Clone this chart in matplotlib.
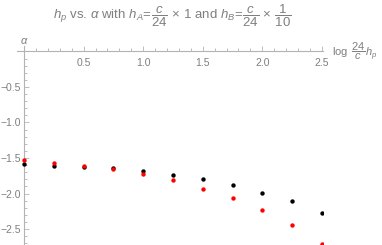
import matplotlib
matplotlib.use("Agg")
import matplotlib.pyplot as plt
from matplotlib.ticker import MultipleLocator, FixedLocator

x_vals = [0.0, 0.25, 0.5, 0.75, 1.0, 1.25, 1.5, 1.75, 2.0, 2.25, 2.5]
alpha_black = [-1.58, -1.61, -1.63, -1.645, -1.69, -1.74, -1.80, -1.88, -1.99, -2.11, -2.27]
alpha_red = [-1.53, -1.57, -1.61, -1.66, -1.73, -1.81, -1.93, -2.07, -2.23, -2.45, -2.71]
x_ticks = [0.5, 1.0, 1.5, 2.0, 2.5]
y_ticks = [-0.5, -1.0, -1.5, -2.0, -2.5]

plt.rcParams['font.family'] = ['Liberation Sans', 'DejaVu Sans']
plt.rcParams['mathtext.fontset'] = 'custom'
plt.rcParams['mathtext.rm'] = 'Liberation Sans'
plt.rcParams['mathtext.it'] = 'Liberation Sans:italic'
plt.rcParams['mathtext.sf'] = 'Liberation Sans'
axis_col = '#b3b3b3'
text_col = '#7f7f7f'

fig = plt.figure(figsize=(3.82, 2.45), dpi=100)
ax = fig.add_axes([17/382, 0.0, (323-17)/382, 1 - 46/245])
ax.set_xlim(-0.06, 2.51)
ax.set_ylim(-2.725, 0.077)

ax.scatter(x_vals, alpha_black, s=10, color='black', zorder=3, linewidths=0)
ax.scatter(x_vals, alpha_red, s=10, color='#ff0000', zorder=4, linewidths=0)

for s in ['top', 'right']:
    ax.spines[s].set_visible(False)
ax.spines['left'].set_position(('data', 0))
ax.spines['bottom'].set_position(('data', 0))
for s in ['left', 'bottom']:
    ax.spines[s].set_color(axis_col)
    ax.spines[s].set_linewidth(0.8)

ax.xaxis.set_major_locator(FixedLocator(x_ticks))
ax.xaxis.set_minor_locator(MultipleLocator(0.1))
ax.yaxis.set_major_locator(FixedLocator(y_ticks))
ax.yaxis.set_minor_locator(MultipleLocator(0.1))
ax.tick_params(which='both', direction='in', color=axis_col, width=0.6, labelcolor=text_col, labelsize=7.5)
ax.tick_params(which='major', length=3.5)
ax.tick_params(which='minor', length=2)
ax.tick_params(axis='x', pad=5)
ax.tick_params(axis='y', pad=2)
ax.set_xticklabels([f"{v:.1f}" for v in x_ticks])
ax.set_yticklabels([f"\u2212{abs(v):.1f}" for v in y_ticks])

fig.text(332/382, 1 - 51.5/245, r"$\log\ \dfrac{24}{c}h_p$", color=text_col, fontsize=8, va='center', ha='left')
fig.text(20/382, 1 - 41/245, r"$\alpha$", color=text_col, fontsize=8, va='center', ha='left')
fig.text(172/382, 1 - 16/245,
         r"$h_p$ vs. $\alpha$ with $h_A\!=\!\dfrac{c}{24}\,\times\,1$ and $h_B\!=\!\dfrac{c}{24}\,\times\,\dfrac{1}{10}$",
         color=text_col, fontsize=9.5, va='center', ha='center')

fig.savefig("out.png", dpi=100)
